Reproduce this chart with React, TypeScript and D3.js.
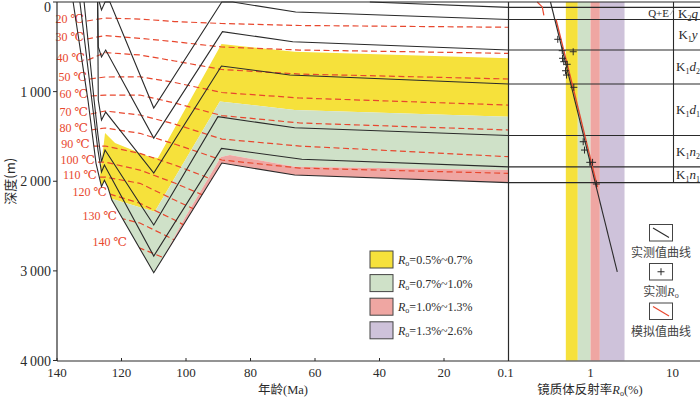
import React from 'react';
import * as d3 from 'd3';

const W = 700;
const H = 399;

const ageTicks = [140, 120, 100, 80, 60, 40, 20];
const depthTicks = [0, 1000, 2000, 3000, 4000];
const roTicks = [0.1, 1, 10];

// formations, top to bottom, and present-day base depth (m)
const formations = ['Q+E', 'K2q', 'K1y', 'K1d2', 'K1d1', 'K1n2', 'K1n1'];
const baseDepths = [60, 195, 535, 915, 1490, 1840, 2015];

// burial curves (base of each formation): age (Ma) / depth (m)
const qeAges = [43, 0];
const qeDepths = [0, 60];
const k2qAges = [126.9, 126.2, 125.1, 123.6, 110, 88.9, 85.5, 66, 0];
const k2qDepths = [0, 89, 0, 0, 1183, 0, 0, 112, 195];
const k1yAges = [127.4, 127.2, 126.2, 124.9, 110, 88.7, 66.9, 0];
const k1yDepths = [0, 502, 614, 536, 1518, 331, 443, 535];
const k1d2Ages = [127.4, 127.2, 126.2, 124.9, 110, 89, 67.8, 0];
const k1d2Depths = [0, 1094, 1317, 1228, 1908, 714, 815, 915];
const k1d1Ages = [131.6, 128.5, 127.3, 126.2, 125.1, 110, 90.1, 66.3, 0];
const k1d1Depths = [0, 1094, 1484, 1782, 1652, 2489, 1280, 1403, 1490];
const k1n2Ages = [132.9, 129.2, 127.3, 126.2, 125.3, 110, 89, 64.1, 0];
const k1n2Depths = [0, 1094, 1652, 1897, 1819, 2835, 1633, 1755, 1840];
const k1n1Ages = [135, 130.4, 127.9, 126.2, 125.3, 124.2, 123, 110, 88.9, 66.3, 0];
const k1n1Depths = [0, 1094, 1800, 2060, 1990, 2070, 2210, 3021, 1797, 1931, 2015];

// Ro iso-lines bounding the maturity zones
const ro05Ages = [127.6, 125.1, 122.0, 111.2, 108.7, 89.0, 66.3, 0];
const ro05Depths = [2210, 1462, 1574, 1730, 1741, 469, 555, 628];
const ro07Ages = [129.8, 123.6, 109.7, 89.5, 66.3, 0];
const ro07Depths = [2210, 2191, 2340, 1110, 1205, 1280];
const ro10Ages = [126.7, 114.3, 109.3, 100.4, 89.2, 86.4, 66.3, 0];
const ro10Depths = [3772, 3236, 3002, 2411, 1730, 1707, 1838, 1875];
const ro13Ages = [140, 0];
const ro13Depths = [4000, 4000];

// isotherms (°C)
const isoTemps = [20, 30, 40, 50, 60, 70, 80, 90, 100, 110, 120, 130, 140];
const isoAges = [
  [130.7, 125.1, 114.3, 103.5, 88.9, 64.7, 0],
  [130.7, 125.1, 114.3, 103.5, 88.9, 64.7, 0],
  [130.4, 125.1, 114.3, 103.5, 88.9, 64.7, 0],
  [129.8, 125.1, 114.3, 103.5, 88.9, 64.7, 0],
  [129.5, 125.1, 114.3, 103.5, 88.9, 64.7, 0],
  [129.5, 125.1, 114.3, 103.5, 88.9, 64.7, 0],
  [129.5, 125.1, 114.3, 103.5, 88.9, 64.7, 0],
  [128.9, 125.1, 114.3, 103.5, 88.9, 64.7, 0],
  [127.3, 125.1, 114.3, 103.5, 88.9, 64.7, 0],
  [126.7, 125.1, 114.3, 103.5, 88.9, 64.7, 0],
  [123.6, 114.3, 103.5, 88.9],
  [120.5, 114.3, 103.5, 88.9],
  [117.4, 103.5, 88.9],
];
const isoDepths = [
  [212, 179, 190, 218, 240, 262, 282],
  [413, 374, 405, 443, 502, 536, 573],
  [647, 564, 591, 658, 753, 804, 859],
  [859, 837, 834, 898, 1010, 1071, 1150],
  [1049, 1038, 1038, 1127, 1267, 1350, 1428],
  [1250, 1216, 1261, 1362, 1529, 1607, 1726],
  [1428, 1406, 1465, 1585, 1763, 1853, 1912],
  [1607, 1607, 1689, 1819, 2020, 2098, 2176],
  [1786, 1786, 1875, 2020, 2243, 2321, 2399],
  [1953, 1953, 2023, 2210, 2455, 2544, 2623],
  [2143, 2246, 2433, 2712],
  [2411, 2466, 2656, 2969],
  [2701, 2902, 3214],
];

// vitrinite reflectance
const roMeasured = [0.399, 0.452, 0.615, 0.456, 0.472, 0.52, 0.496, 0.51, 0.626, 0.815, 0.845, 0.98, 1.06, 1.18];
const roMeasuredDepths = [416, 543, 555, 628, 666, 695, 767, 815, 952, 1559, 1652, 1789, 1789, 2031];
const roTrend = [0.325, 2.12];
const roTrendDepths = [0, 3010];
const roSimShallow = [0.224, 0.258, 0.27];
const roSimShallowDepths = [0, 55, 150];
const roSimDeep = [0.38, 0.631, 1.217];
const roSimDeepDepths = [195, 1000, 2065];

const zoneLabels = ['0.5%~0.7%', '0.7%~1.0%', '1.0%~1.3%', '1.3%~2.6%'];
const zoneBands = [[0.5, 0.7], [0.7, 1.0], [1.0, 1.3], [1.3, 2.6]];
const zoneColors = ['#f6e13b', '#cfe1c8', '#efa6a2', '#cec2da'];

const SERIF = '"Liberation Serif", "Times New Roman", "DejaVu Serif", serif';
const CJK = '"Noto Sans CJK SC", "Liberation Serif", sans-serif';
const RED = '#e8472e';
const INK = '#2a2a2a';

const zip = (a: number[], b: number[]) => a.map((v, i) => [v, b[i]] as [number, number]);

function FmLabel({ name, x, y }: { name: string; x: number; y: number }) {
  const m = /^K(\d)([a-z])(\d?)$/.exec(name);
  if (!m) return null;
  return (
    <text x={x} y={y + 4.5} textAnchor="middle" fontSize={13} fontFamily={SERIF} fill={INK}>
      K
      <tspan fontSize={8} dy={3}>{m[1]}</tspan>
      <tspan fontStyle="italic" dy={-3}>{m[2]}</tspan>
      {m[3] ? <tspan fontSize={8} dy={3}>{m[3]}</tspan> : null}
    </text>
  );
}

export default function App() {
  const x = d3.scaleLinear().domain([140, 0]).range([57, 508.5]);
  const y = d3.scaleLinear().domain([0, 4000]).range([2, 360.5]);
  const xr = d3.scaleLog().domain([0.1, 10]).range([508.5, 672.5]);

  const line = d3
    .line<[number, number]>()
    .x((d) => x(d[0]))
    .y((d) => y(d[1]));
  const roLine = d3
    .line<[number, number]>()
    .x((d) => xr(d[0]))
    .y((d) => y(d[1]));

  const basin = zip(k1n1Ages, k1n1Depths);
  const basinPath = line(basin.concat([[0, 0]])) + 'Z';

  const zone = (ta: number[], td: number[], ba: number[], bd: number[]) =>
    line(zip(ta, td).concat(zip(ba, bd).reverse())) + 'Z';

  const zonePaths = [
    zone(ro05Ages, ro05Depths, ro07Ages, ro07Depths),
    zone(ro07Ages, ro07Depths, ro10Ages, ro10Depths),
    zone(ro10Ages, ro10Depths, ro13Ages, ro13Depths),
  ];

  const curves = [
    zip(qeAges, qeDepths),
    zip(k2qAges, k2qDepths),
    zip(k1yAges, k1yDepths),
    zip(k1d2Ages, k1d2Depths),
    zip(k1d1Ages, k1d1Depths),
    zip(k1n2Ages, k1n2Depths),
    zip(k1n1Ages, k1n1Depths),
  ];

  const xAxisY = 361;
  const colX = 673.5;

  return (
    <svg
      width={W}
      height={H}
      style={{ position: 'absolute', left: 0, top: 0, background: '#fff' }}
      fontFamily={SERIF}
    >
      <defs>
        <clipPath id="basin">
          <path d={basinPath} />
        </clipPath>
      </defs>

      {/* Ro bands in the right panel */}
      {zoneBands.map((b, i) => (
        <rect
          key={'band' + i}
          x={xr(b[0])}
          y={y(0)}
          width={xr(b[1]) - xr(b[0])}
          height={y(4000) - y(0)}
          fill={zoneColors[i]}
        />
      ))}

      {/* maturity zones in burial history */}
      <g clipPath="url(#basin)">
        {zonePaths.map((p, i) => (
          <path key={'z' + i} d={p} fill={zoneColors[i]} />
        ))}
        {isoTemps.map((t, i) => (
          <path
            key={'iso' + t}
            d={line(zip(isoAges[i], isoDepths[i])) || ''}
            fill="none"
            stroke={RED}
            strokeWidth={1.2}
            strokeDasharray="6 3.5"
          />
        ))}
      </g>

      {/* isotherm labels */}
      {isoTemps.map((t, i) => (
        <text
          key={'isol' + t}
          x={x(isoAges[i][0]) - 3}
          y={y(isoDepths[i][0]) + 2}
          textAnchor="end"
          fontSize={12}
          fill={RED}
        >
          {t} ℃
        </text>
      ))}

      {/* burial curves */}
      {curves.map((c, i) => (
        <path key={'c' + i} d={line(c) || ''} fill="none" stroke={INK} strokeWidth={1.1} />
      ))}

      {/* formation lines in right panel */}
      {baseDepths.map((d, i) => (
        <line key={'fl' + i} x1={x(0)} x2={W} y1={y(d)} y2={y(d)} stroke={INK} strokeWidth={1.1} />
      ))}
      <line x1={colX} x2={colX} y1={y(0)} y2={y(baseDepths[baseDepths.length - 1])} stroke={INK} strokeWidth={1.1} />
      {formations.slice(1).map((f, i) => (
        <FmLabel key={f} name={f} x={688} y={(y(baseDepths[i]) + y(baseDepths[i + 1])) / 2} />
      ))}
      <text x={669} y={(y(baseDepths[0]) + y(baseDepths[1])) / 2 + 4} textAnchor="end" fontSize={11} fill={INK}>
        {formations[0]}
      </text>
      <line x1={670} y1={15} x2={674} y2={9} stroke="#888" strokeWidth={0.6} />

      {/* Ro curves */}
      <path d={roLine(zip(roSimShallow, roSimShallowDepths)) || ''} fill="none" stroke={RED} strokeWidth={1.2} />
      <path d={roLine(zip(roSimDeep, roSimDeepDepths)) || ''} fill="none" stroke={RED} strokeWidth={1.3} />
      <path d={roLine(zip(roTrend, roTrendDepths)) || ''} fill="none" stroke={INK} strokeWidth={1.1} />
      {roMeasured.map((r, i) => (
        <path
          key={'m' + i}
          transform={`translate(${xr(r)},${y(roMeasuredDepths[i])})`}
          d="M-3.5,0H3.5M0,-3.5V3.5"
          stroke={INK}
          strokeWidth={1}
        />
      ))}

      {/* frames */}
      <line x1={x(140)} x2={W} y1={y(0)} y2={y(0)} stroke={INK} strokeWidth={1.2} />
      <line x1={x(140)} x2={W} y1={xAxisY} y2={xAxisY} stroke={INK} strokeWidth={1.2} />
      <line x1={x(140)} x2={x(140)} y1={y(0)} y2={xAxisY} stroke={INK} strokeWidth={1.2} />
      <line x1={x(0)} x2={x(0)} y1={y(0)} y2={xAxisY} stroke={INK} strokeWidth={1.2} />

      {/* y axis */}
      {depthTicks.map((d) => (
        <g key={'yt' + d}>
          <line x1={x(140) - 4} x2={x(140)} y1={y(d)} y2={y(d)} stroke={INK} strokeWidth={1} />
          <text
            x={51}
            y={Math.max(y(d), 7) + 5}
            textAnchor="end"
            fontSize={14}
            fill={INK}
          >
            {d === 0 ? '0' : d3.format(',')(d).replace(',', '\u2009')}
          </text>
        </g>
      ))}
      <text
        transform={`translate(15,${y(2000)}) rotate(-90)`}
        textAnchor="middle"
        fontSize={13}
        fill={INK}
        fontFamily={CJK}
      >
        深度(m)
      </text>

      {/* x axes */}
      {ageTicks.map((a) => (
        <g key={'xt' + a}>
          <line x1={x(a)} x2={x(a)} y1={xAxisY - 3} y2={xAxisY} stroke={INK} strokeWidth={1} />
          <text x={x(a)} y={376.5} textAnchor="middle" fontSize={13} fill={INK}>
            {a}
          </text>
        </g>
      ))}
      {roTicks.map((r) => (
        <text key={'rt' + r} x={xr(r) - (r === 0.1 ? 3 : 0)} y={376.5} textAnchor="middle" fontSize={13} fill={INK}>
          {r}
        </text>
      ))}
      <text x={283} y={394} textAnchor="middle" fontSize={12.5} fill={INK} fontFamily={CJK}>
        年龄<tspan fontFamily={SERIF}>(Ma)</tspan>
      </text>
      <text x={590} y={394} textAnchor="middle" fontSize={12.5} fill={INK} fontFamily={CJK}>
        镜质体反射率
        <tspan fontFamily={SERIF} fontStyle="italic">R</tspan>
        <tspan fontFamily={SERIF} fontSize={8} dy={2}>o</tspan>
        <tspan fontFamily={SERIF} dy={-2}>(%)</tspan>
      </text>

      {/* zone legend */}
      {zoneLabels.map((l, i) => (
        <g key={'lg' + i} transform={`translate(370,${251 + i * 23.6})`}>
          <rect x={0} y={0} width={23} height={17} fill={zoneColors[i]} stroke="#444" strokeWidth={1} />
          <text x={28} y={13} fontSize={12} fill={INK}>
            <tspan fontStyle="italic">R</tspan>
            <tspan fontSize={8} dy={2}>o</tspan>
            <tspan dy={-2}>={l}</tspan>
          </text>
        </g>
      ))}

      {/* curve legend */}
      <g transform="translate(649.5,224.5)">
        <rect width={23} height={16.5} fill="#fff" stroke="#444" strokeWidth={1} />
        <line x1={3.5} y1={3.5} x2={19.5} y2={13} stroke={INK} strokeWidth={1.1} />
      </g>
      <text x={661} y={257} textAnchor="middle" fontSize={12} fill="#444" fontFamily={CJK}>
        实测值曲线
      </text>
      <g transform="translate(649.5,263.5)">
        <rect width={23} height={16.5} fill="#fff" stroke="#444" strokeWidth={1} />
        <path d="M8,8.25H15M11.5,4.75V11.75" stroke={INK} strokeWidth={1} />
      </g>
      <text x={661} y={296} textAnchor="middle" fontSize={12} fill="#444" fontFamily={CJK}>
        实测<tspan fontFamily={SERIF} fontStyle="italic">R</tspan>
        <tspan fontFamily={SERIF} fontSize={8} dy={2}>o</tspan>
      </text>
      <g transform="translate(649.5,303)">
        <rect width={23} height={16.5} fill="#fff" stroke="#444" strokeWidth={1} />
        <line x1={3.5} y1={3.5} x2={19.5} y2={13} stroke={RED} strokeWidth={1.2} />
      </g>
      <text x={661} y={336} textAnchor="middle" fontSize={12} fill="#444" fontFamily={CJK}>
        模拟值曲线
      </text>
    </svg>
  );
}
